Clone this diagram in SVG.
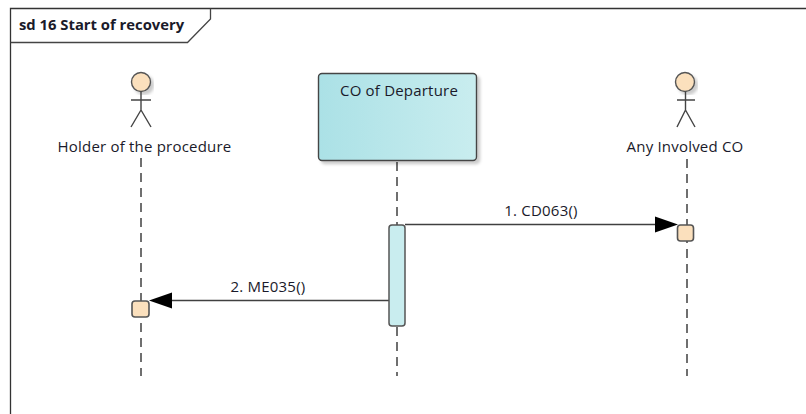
<svg xmlns="http://www.w3.org/2000/svg" width="806" height="414" viewBox="0 0 806 414">
<style>
text{font-family:"Open Sans","Noto Sans","Liberation Sans",sans-serif;font-size:15px;letter-spacing:.2px;fill:#1a1a2a}
.ll{stroke:#333;stroke-width:1.4;stroke-dasharray:9 6;fill:none}
.msg{stroke:#404040;stroke-width:1.4;fill:none}
.a{fill:#000}
.body{stroke:#444;stroke-width:1.4;fill:none}
.head{fill:#fbe0bd;stroke:#555;stroke-width:1.4}
.box{fill:#fbe0bd;stroke:#555;stroke-width:1.6}
</style>
<defs>
<linearGradient id="g" x1="0" x2="1" y1="0" y2="0"><stop offset="0" stop-color="#abe1e6"/><stop offset="1" stop-color="#c9edef"/></linearGradient>
<filter id="s" x="-10%" y="-10%" width="125%" height="125%"><feDropShadow dx="3" dy="3" stdDeviation="1.5" flood-color="#000" flood-opacity=".2"/></filter>
</defs>
<rect width="806" height="414" fill="#fff"/>
<g id="frame">
<path d="M10.500 414V8.500H806" fill="none" stroke="#333" stroke-width="1.300"/>
<path d="M10.500 42.500H187.500L210.500 19V8.500" fill="none" stroke="#444" stroke-width="1.300"/>
<text x="19" y="30" style="font-weight:700;font-size:14.800px;letter-spacing:0">sd 16 Start of recovery</text>
</g>
<g id="connectors">
<path class="ll" d="M141 158V376"/>
<path class="ll" d="M397 162V376"/>
<path class="ll" d="M687 159V376"/>
<path class="msg" d="M405 224.500H660"/><path class="a" d="M655 216.500L678 224.500L655 232.500Z"/>
<path class="msg" d="M389 300.500H172"/><path class="a" d="M172 292.500L149 300.500L172 308.500Z"/>
<text x="541" y="216" text-anchor="middle">1. CD063()</text>
<text x="268" y="292" text-anchor="middle">2. ME035()</text>
</g>
<g id="holder">
<circle class="head" cx="141" cy="82" r="9.500" filter="url(#s)"/>
<path class="body" d="M141 91.500V110M131 100H151M141 110L131 127M141 110L151 127"/>
<text x="144.500" y="151.500" text-anchor="middle">Holder of the procedure</text>
</g>
<g id="departure">
<rect x="318.500" y="73.500" width="158" height="87" rx="3.500" fill="url(#g)" stroke="#444" stroke-width="1.400" filter="url(#s)"/>
<text x="399" y="95.500" text-anchor="middle">CO of Departure</text>
</g>
<g id="involved">
<circle class="head" cx="685" cy="82" r="9.500" filter="url(#s)"/>
<path class="body" d="M685.500 91.500V110M677 100H695M685.500 110L677 127M685.500 110L695 127"/>
<text x="685" y="151.500" text-anchor="middle">Any Involved CO</text>
</g>
<g id="activation-departure">
<rect x="389" y="225" width="16" height="101" rx="3" fill="#c9edef" stroke="#555" stroke-width="1.500"/>
</g>
<g id="activation-involved">
<rect x="677.500" y="225" width="16" height="16" rx="3" class="box"/>
</g>
<g id="activation-holder">
<rect x="132" y="301" width="17" height="16" rx="3" class="box"/>
</g>
</svg>
